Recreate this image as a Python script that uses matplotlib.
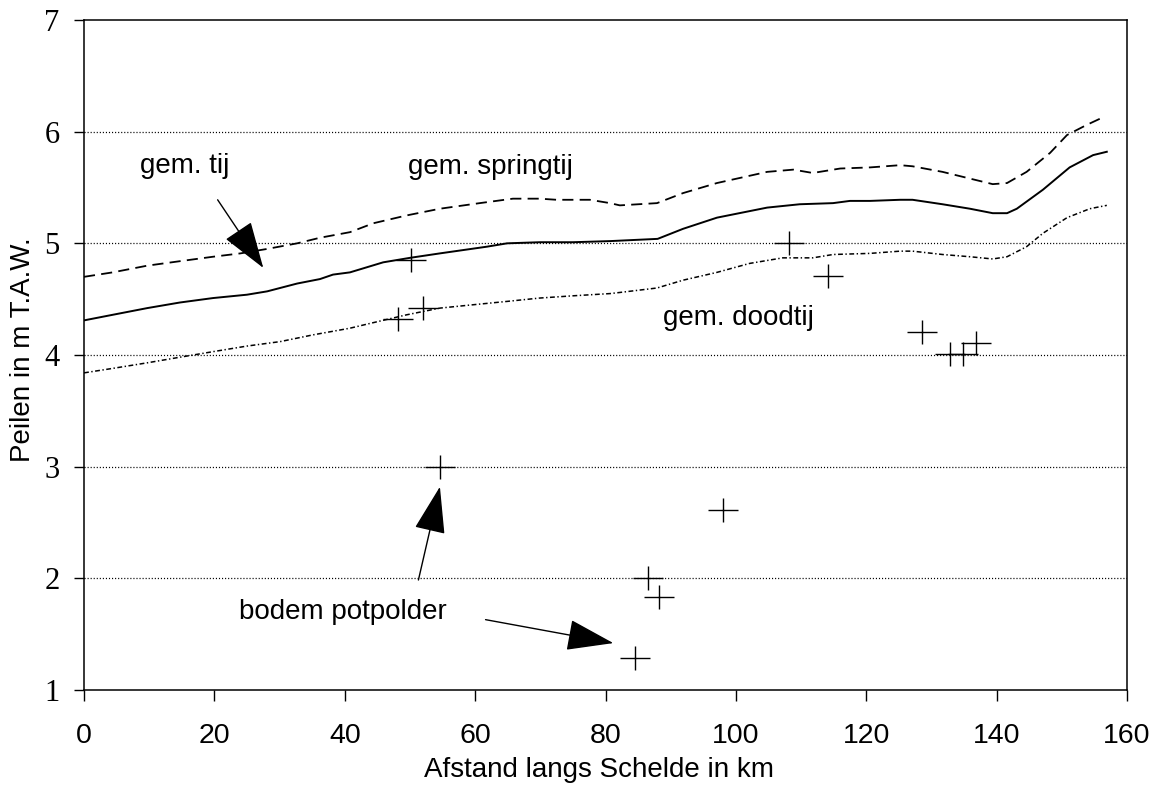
import matplotlib
matplotlib.use("Agg")
import matplotlib.pyplot as plt
from matplotlib.path import Path

plt.rcParams['lines.scale_dashes'] = False
plt.rcParams['font.family'] = ['Liberation Sans', 'DejaVu Sans']

# --- data (distance along Schelde in km, level in m T.A.W.) ---
tij_x = [0, 4.4, 9.7, 14.7, 19.8, 25, 28.1, 32.7, 36.2, 38.2, 40.8, 45.9, 50, 54.6,
         61.8, 64.9, 69.9, 75, 80.7, 88, 91.9, 97.1, 104.8, 109.8, 114.9, 117.5,
         120.6, 125.2, 127.1, 131.7, 135.9, 139.4, 141.6, 143.1, 147.1, 151.2,
         154.8, 156.9]
tij_y = [4.31, 4.36, 4.42, 4.47, 4.51, 4.54, 4.57, 4.64, 4.68, 4.72, 4.74, 4.83, 4.87,
         4.91, 4.97, 5.00, 5.01, 5.01, 5.02, 5.04, 5.13, 5.23, 5.32, 5.35, 5.36, 5.38,
         5.38, 5.39, 5.39, 5.35, 5.31, 5.27, 5.27, 5.31, 5.48, 5.68, 5.79, 5.82]

spring_x = [0, 4.4, 9.7, 14.7, 19.8, 24, 28.1, 32.7, 36.2, 40.8, 44.4, 49.5, 54.6,
            60.7, 65.8, 69.9, 72.5, 77.6, 80.7, 82.2, 87.9, 91.9, 97.1, 104.8, 108.8,
            111.8, 116, 120.6, 125.2, 127.1, 131.7, 135.9, 139.4, 141.6, 144.6, 148.2,
            150.8, 153.8, 156]
spring_y = [4.70, 4.74, 4.80, 4.84, 4.88, 4.91, 4.95, 5.00, 5.05, 5.10, 5.18, 5.25, 5.31,
            5.36, 5.40, 5.40, 5.39, 5.39, 5.36, 5.34, 5.36, 5.45, 5.54, 5.64, 5.66,
            5.63, 5.67, 5.68, 5.70, 5.69, 5.64, 5.58, 5.53, 5.54, 5.64, 5.81,
            5.97, 6.06, 6.12]

dood_x = [0, 4.4, 9.7, 14.7, 19.8, 25, 30.1, 35.1, 40.8, 44.4, 49.5, 54.6, 59.7, 64.9,
          69.9, 75, 80.7, 82.2, 87.9, 91.9, 97.1, 102.1, 107.2, 111.8, 114.9, 120.6,
          125.2, 127.1, 131.7, 135.9, 139.4, 141.6, 144.6, 147.1, 150.8, 154.3, 156.9]
dood_y = [3.84, 3.88, 3.93, 3.98, 4.03, 4.08, 4.12, 4.18, 4.24, 4.29, 4.36, 4.42, 4.45,
          4.48, 4.51, 4.53, 4.55, 4.56, 4.60, 4.67, 4.74, 4.82, 4.87, 4.87, 4.90, 4.91,
          4.93, 4.93, 4.90, 4.88, 4.86, 4.88, 4.97, 5.09, 5.23, 5.31, 5.34]

polder_x = [50.1, 48.1, 52.0, 54.6, 108.2, 114.2, 128.6, 132.8, 134.8, 136.8,
            98.1, 86.5, 88.2, 84.6]
polder_y = [4.85, 4.32, 4.42, 3.00, 5.00, 4.71, 4.21, 4.01, 4.01, 4.11,
            2.61, 2.00, 1.83, 1.29]

x_ticks = [0, 20, 40, 60, 80, 100, 120, 140, 160]
y_ticks = [1, 2, 3, 4, 5, 6, 7]

# --- figure ---
W, H = 1163, 786
fig = plt.figure(figsize=(W / 100, H / 100), dpi=100)
ax = fig.add_axes([84 / W, 1 - 690 / H, (1127 - 84) / W, (690 - 20) / H])
ax.set_xlim(0, 160)
ax.set_ylim(1, 7)

for yv in y_ticks[1:-1]:
    ax.axhline(yv, color='black', lw=0.9, ls=(0, (0.8, 1.4)), zorder=1)

ax.plot(spring_x, spring_y, color='black', lw=1.3, ls=(0, (8.0, 4.5)), zorder=3)
ax.plot(tij_x, tij_y, color='black', lw=1.4, ls='-', zorder=3)
ax.plot(dood_x, dood_y, color='black', lw=1.1, ls=(0, (3.5, 1.8, 1.0, 1.8)), zorder=3)

cross = Path([(-1.25, 0), (1.25, 0), (0, -1), (0, 1)],
             [Path.MOVETO, Path.LINETO, Path.MOVETO, Path.LINETO])
ax.plot(polder_x, polder_y, ls='none', marker=cross, markersize=21,
        markeredgewidth=1.0, color='black', zorder=4)

# labels
tfs = 20
ax.text(8.6, 5.63, 'gem. tij', fontsize=tfs, ha='left', va='baseline')
ax.text(49.7, 5.62, 'gem. springtij', fontsize=tfs, ha='left', va='baseline')
ax.text(88.8, 4.27, 'gem. doodtij', fontsize=tfs, ha='left', va='baseline')
ax.text(23.8, 1.636, 'bodem potpolder', fontsize=tfs, ha='left', va='baseline')

aprops = dict(arrowstyle='-|>,head_length=30,head_width=10', mutation_scale=1,
              lw=1.0, color='black', shrinkA=0, shrinkB=0)
ax.annotate('', xy=(27.5, 4.78), xytext=(20.5, 5.39), arrowprops=aprops)
ax.annotate('', xy=(54.6, 2.82), xytext=(51.3, 1.985), arrowprops=aprops)
ax.annotate('', xy=(81.2, 1.42), xytext=(61.6, 1.63), arrowprops=aprops)

# axes styling
for s in ax.spines.values():
    s.set_linewidth(1.1)
    s.set_color('black')
ax.set_xticks(x_ticks)
ax.set_yticks(y_ticks)
ax.set_xticklabels([str(v) for v in x_ticks], fontsize=20.5)
ax.set_yticklabels([str(v) for v in y_ticks], fontsize=22,
                   family=['Liberation Serif', 'DejaVu Serif'])
ax.tick_params(axis='x', direction='out', length=8, width=1.0, pad=16)
ax.tick_params(axis='y', direction='out', length=7.5, width=1.0, pad=10)

fig.text(599 / W, 1 - 777 / H, 'Afstand langs Schelde in km', fontsize=20,
         ha='center', va='baseline')
fig.text(23 / W, 1 - 350 / H, 'Peilen in m T.A.W.', fontsize=20,
         ha='center', va='center', rotation=90)

fig.savefig('out.png', dpi=100, facecolor='white')
